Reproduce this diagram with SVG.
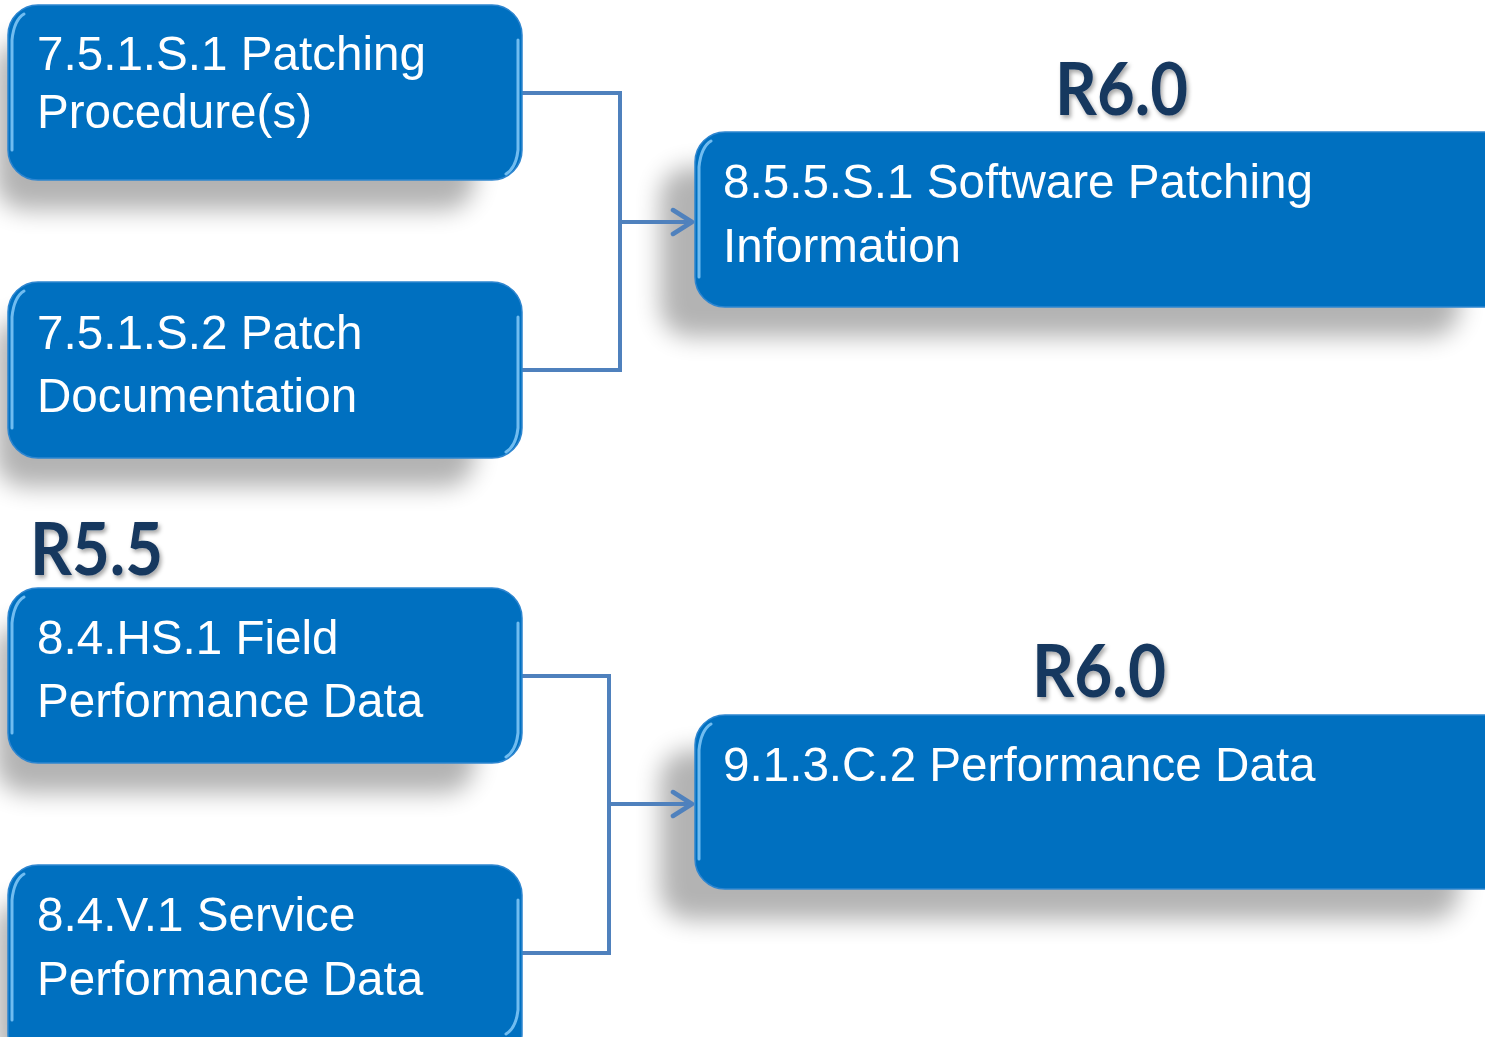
<svg xmlns="http://www.w3.org/2000/svg" width="1485" height="1037" viewBox="0 0 1485 1037">
<style>
.box{fill:#0070C0;stroke:#2E86D0;stroke-width:1.5}
.gl{fill:none;stroke:#7CC4F5;stroke-width:3;stroke-linecap:round;opacity:0.9}
.t{font-family:"Liberation Sans",Arial,sans-serif;font-size:47.6px;fill:#FFFFFF}
.h{font-family:Lato,"Open Sans",sans-serif;font-weight:bold;font-size:72px;fill:#17375E;filter:url(#ts)}
.c{fill:none;stroke:#4F81BD;stroke-width:4;stroke-linejoin:miter}
</style>
<defs>
<filter id="sh" x="-20%" y="-30%" width="140%" height="180%">
<feGaussianBlur stdDeviation="12"/>
</filter>
<filter id="ts" x="-10%" y="-10%" width="130%" height="140%">
<feDropShadow dx="2" dy="3" stdDeviation="2" flood-color="#000" flood-opacity="0.35"/>
</filter>
<marker id="ar" viewBox="0 0 26 30" refX="23" refY="15" markerWidth="26" markerHeight="30" markerUnits="userSpaceOnUse" orient="auto">
<path d="M4,3 L23,15 L4,27" fill="none" stroke="#4F81BD" stroke-width="4.5" stroke-linecap="round" stroke-linejoin="round"/>
</marker>
</defs>
<rect width="1485" height="1037" fill="#FFFFFF"/>
<g id="shadows" fill="#000" opacity="0.3">
<rect x="-5" y="40" width="480" height="170" rx="30" filter="url(#sh)"/>
<rect x="-5" y="317" width="480" height="170" rx="30" filter="url(#sh)"/>
<rect x="-5" y="623" width="480" height="170" rx="30" filter="url(#sh)"/>
<rect x="-5" y="900" width="480" height="170" rx="30" filter="url(#sh)"/>
<rect x="660" y="167" width="800" height="170" rx="30" filter="url(#sh)"/>
<rect x="660" y="750" width="800" height="170" rx="30" filter="url(#sh)"/>
</g>
<g id="connectors">
<polyline class="c" points="522,93 620,93 620,370 522,370"/>
<line class="c" x1="620" y1="222" x2="692" y2="222" marker-end="url(#ar)"/>
<polyline class="c" points="522,676 609,676 609,953 522,953"/>
<line class="c" x1="609" y1="804" x2="692" y2="804" marker-end="url(#ar)"/>
</g>
<g id="n1">
<rect class="box" x="8" y="5" width="514" height="175" rx="30"/>
<path class="gl" d="M12,150 L12,40 Q14,20 24,14"/>
<path class="gl" d="M518,40 L518,150 Q516,168 506,174"/>
<text class="t" x="37" y="70">7.5.1.S.1 Patching</text>
<text class="t" x="37" y="128">Procedure(s)</text>
</g>
<g id="n2">
<rect class="box" x="8" y="282" width="514" height="176" rx="30"/>
<path class="gl" d="M12,428 L12,317 Q14,297 24,291"/>
<path class="gl" d="M518,317 L518,428 Q516,446 506,452"/>
<text class="t" x="37" y="349">7.5.1.S.2 Patch</text>
<text class="t" x="37" y="412">Documentation</text>
</g>
<g id="n3">
<rect class="box" x="8" y="588" width="514" height="175" rx="30"/>
<path class="gl" d="M12,733 L12,623 Q14,603 24,597"/>
<path class="gl" d="M518,623 L518,733 Q516,751 506,757"/>
<text class="t" x="37" y="654">8.4.HS.1 Field</text>
<text class="t" x="37" y="717">Performance Data</text>
</g>
<g id="n4">
<rect class="box" x="8" y="865" width="514" height="200" rx="30"/>
<path class="gl" d="M12,1020 L12,900 Q14,880 24,874"/>
<path class="gl" d="M518,900 L518,1010 Q516,1028 506,1034"/>
<text class="t" x="37" y="931">8.4.V.1 Service</text>
<text class="t" x="37" y="995">Performance Data</text>
</g>
<g id="n5">
<rect class="box" x="695" y="132" width="820" height="175" rx="30"/>
<path class="gl" d="M699,277 L699,167 Q701,147 711,141"/>
<text class="t" x="723" y="198">8.5.5.S.1 Software Patching</text>
<text class="t" x="723" y="262">Information</text>
</g>
<g id="n6">
<rect class="box" x="695" y="715" width="820" height="174" rx="30"/>
<path class="gl" d="M699,859 L699,750 Q701,730 711,724"/>
<text class="t" x="723" y="781">9.1.3.C.2 Performance Data</text>
</g>
<g id="labels">
<text class="h" x="1055" y="115" textLength="133" lengthAdjust="spacingAndGlyphs">R6.0</text>
<text class="h" x="1032" y="697" textLength="134" lengthAdjust="spacingAndGlyphs">R6.0</text>
<text class="h" x="30" y="575" textLength="133" lengthAdjust="spacingAndGlyphs">R5.5</text>
</g>
</svg>
